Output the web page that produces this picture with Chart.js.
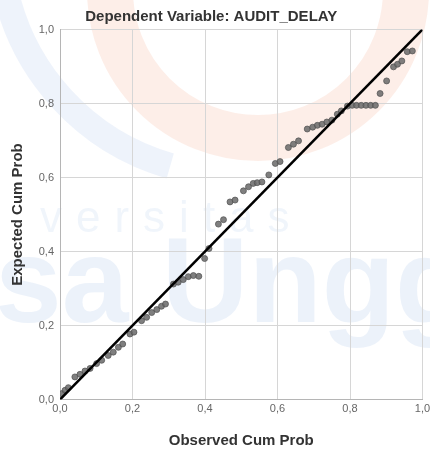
<!DOCTYPE html>
<html>
<head>
<meta charset="utf-8">
<script src="https://cdn.jsdelivr.net/npm/chart.js@4.4.1/dist/chart.umd.min.js"></script>
<style>
  html, body { margin: 0; padding: 0; background: #fff; }
  #wrap { width: 430px; height: 453px; }
</style>
</head>
<body>
<div id="wrap"><canvas id="pp"></canvas></div>
<script>
// Normal P-P plot of regression standardized residual
const chartTitle = 'Dependent Variable: AUDIT_DELAY';
const xTitle = 'Observed Cum Prob';
const yTitle = 'Expected Cum Prob';
const tickValues = [0, 0.2, 0.4, 0.6, 0.8, 1.0];

const observed = [
  0.005, 0.014, 0.023, 0.041, 0.055, 0.069, 0.083, 0.101, 0.115, 0.133,
  0.147, 0.161, 0.173, 0.193, 0.204, 0.225, 0.239, 0.253, 0.267, 0.280,
  0.291, 0.313, 0.326, 0.340, 0.354, 0.368, 0.383, 0.399, 0.411, 0.437,
  0.451, 0.469, 0.483, 0.506, 0.520, 0.533, 0.544, 0.557, 0.576, 0.594,
  0.607, 0.630, 0.644, 0.658, 0.682, 0.697, 0.710, 0.723, 0.736, 0.750,
  0.765, 0.776, 0.793, 0.806, 0.818, 0.831, 0.844, 0.857, 0.870, 0.883,
  0.901, 0.920, 0.931, 0.943, 0.958, 0.972
];
const expected = [
  0.016, 0.025, 0.032, 0.061, 0.068, 0.077, 0.084, 0.097, 0.106, 0.119,
  0.128, 0.141, 0.150, 0.177, 0.182, 0.213, 0.222, 0.235, 0.243, 0.252,
  0.258, 0.312, 0.317, 0.324, 0.332, 0.335, 0.333, 0.381, 0.408, 0.474,
  0.486, 0.534, 0.539, 0.564, 0.575, 0.584, 0.586, 0.588, 0.607, 0.638,
  0.643, 0.681, 0.690, 0.699, 0.731, 0.736, 0.741, 0.744, 0.750, 0.755,
  0.771, 0.780, 0.793, 0.795, 0.795, 0.795, 0.795, 0.795, 0.795, 0.827,
  0.861, 0.899, 0.906, 0.915, 0.940, 0.942
];
const diagonal = [0, 1];

const fontFamily = '"Liberation Sans", Arial, sans-serif';

// faint repository watermark behind the chart
const watermark = {
  id: 'watermark',
  beforeDraw(chart) {
    const ctx = chart.ctx;
    ctx.save();
    ctx.fillStyle = '#fff';
    ctx.fillRect(0, 0, chart.width, chart.height);

    ctx.strokeStyle = 'rgba(245, 150, 110, 0.16)';
    ctx.lineWidth = 46;
    ctx.beginPath();
    ctx.arc(258, -10, 148, 0, Math.PI * 2);
    ctx.stroke();

    ctx.strokeStyle = 'rgba(90, 140, 215, 0.10)';
    ctx.lineWidth = 26;
    ctx.beginPath();
    ctx.arc(235, -60, 235, 1.85, 2.95);
    ctx.stroke();

    ctx.fillStyle = 'rgba(70, 125, 210, 0.10)';
    ctx.font = 'bold 120px ' + fontFamily;
    ctx.textBaseline = 'alphabetic';
    ctx.fillText('Esa Unggul', -85, 322);

    ctx.fillStyle = 'rgba(70, 125, 210, 0.08)';
    ctx.font = '44px ' + fontFamily;
    const word = 'versitas';
    let x = 40;
    for (const ch of word) {
      ctx.fillText(ch, x, 232);
      x += ctx.measureText(ch).width + 14;
    }
    ctx.restore();
  }
};

const fmt = v => v.toFixed(1).replace('.', ',');

new Chart(document.getElementById('pp'), {
  type: 'scatter',
  data: {
    datasets: [
      {
        type: 'line',
        data: diagonal.map(v => ({ x: v, y: v })),
        borderColor: '#000',
        borderWidth: 2.6,
        pointRadius: 0,
        fill: false
      },
      {
        data: observed.map((v, i) => ({ x: v, y: expected[i] })),
        backgroundColor: 'rgba(105, 105, 105, 0.85)',
        borderColor: 'rgba(80, 80, 80, 0.7)',
        borderWidth: 1,
        pointRadius: 3
      }
    ]
  },
  options: {
    responsive: true,
    maintainAspectRatio: false,
    animation: false,
    layout: { padding: { left: 0, right: 7.5, top: 0, bottom: 0 } },
    plugins: {
      legend: { display: false },
      tooltip: { enabled: false },
      title: {
        display: true,
        text: chartTitle,
        color: '#333',
        font: { family: fontFamily, size: 15, weight: 'bold', lineHeight: 1.2 },
        padding: { top: 8, bottom: 3.5 }
      }
    },
    scales: {
      x: {
        type: 'linear',
        min: 0,
        max: 1,
        afterBuildTicks: s => { s.ticks = tickValues.map(v => ({ value: v })); },
        afterFit: s => { s.height = 53.5; s.paddingLeft = 0; s.paddingRight = 0; },
        grid: { color: '#d6d6d6', lineWidth: 1, drawTicks: false },
        border: { color: '#b5b5b5', width: 1 },
        ticks: {
          padding: 3,
          maxRotation: 0,
          color: '#666',
          font: { family: fontFamily, size: 11 },
          callback: v => fmt(v)
        },
        title: {
          display: true,
          text: xTitle,
          color: '#333',
          font: { family: fontFamily, size: 15, weight: 'bold', lineHeight: 1.2 },
          padding: { top: 0, bottom: 3.5 }
        }
      },
      y: {
        type: 'linear',
        min: 0,
        max: 1,
        afterBuildTicks: s => { s.ticks = tickValues.map(v => ({ value: v })); },
        afterFit: s => { s.width = 60; s.paddingTop = 0; s.paddingBottom = 0; },
        grid: { color: '#d6d6d6', lineWidth: 1, drawTicks: false },
        border: { color: '#b5b5b5', width: 1 },
        ticks: {
          padding: 6,
          color: '#666',
          font: { family: fontFamily, size: 11 },
          callback: v => fmt(v)
        },
        title: {
          display: true,
          text: yTitle,
          color: '#333',
          font: { family: fontFamily, size: 15, weight: 'bold', lineHeight: 1.2 },
          padding: { top: 9, bottom: 0 }
        }
      }
    }
  },
  plugins: [watermark]
});
</script>
</body>
</html>
